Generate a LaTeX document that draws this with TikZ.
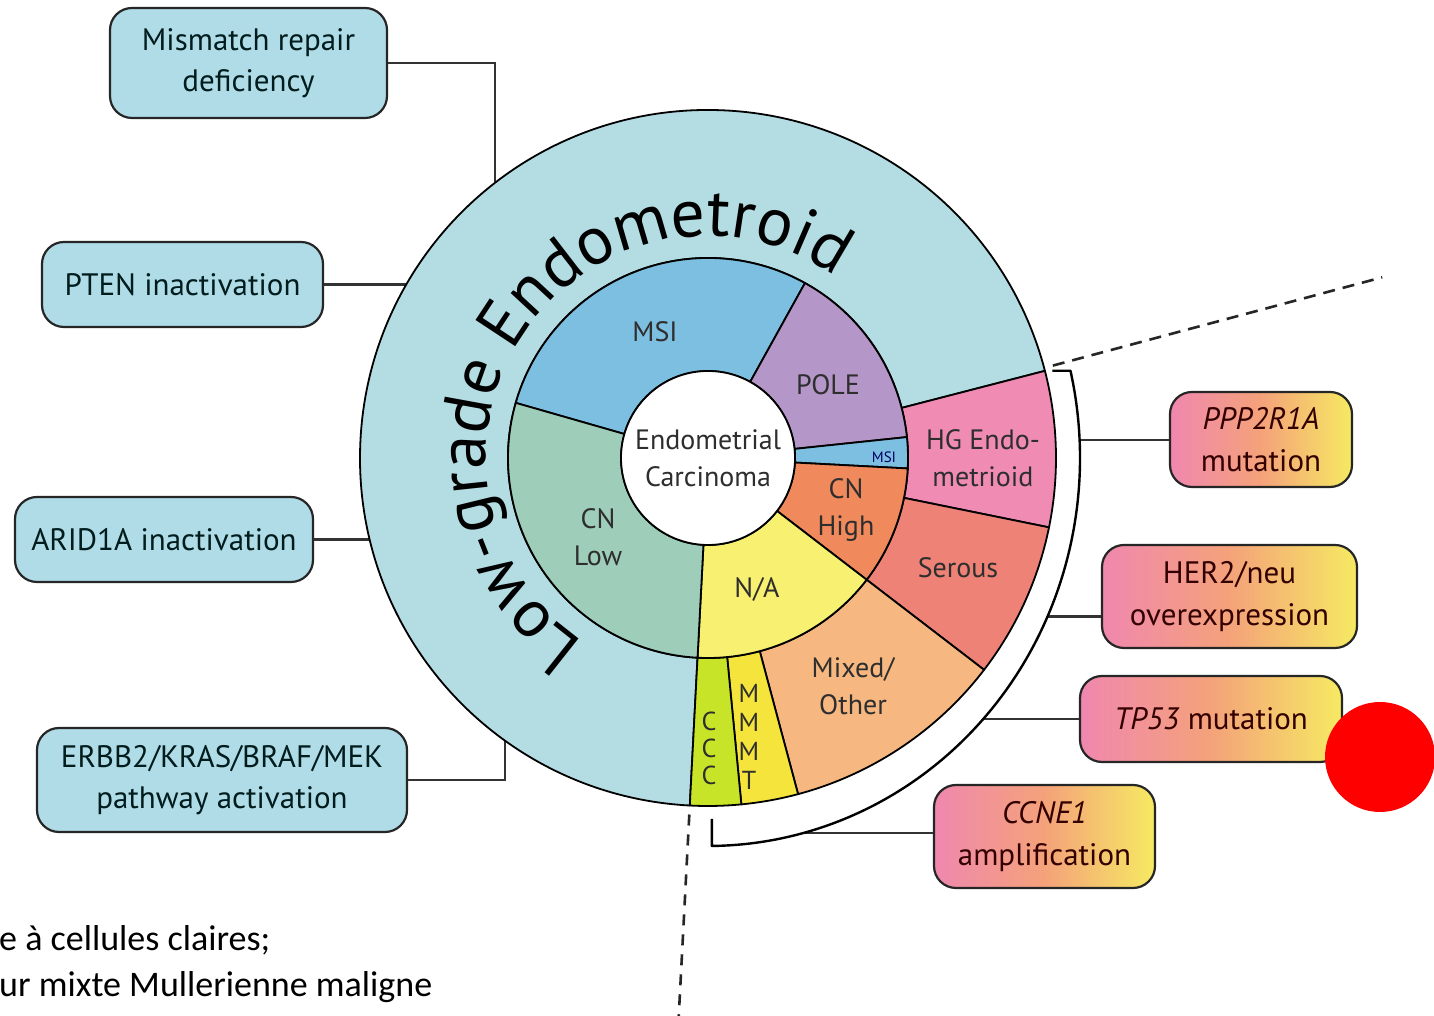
\documentclass[tikz,border=0pt]{standalone}
\usepackage{fontspec}
\setmainfont{PT Sans}
\newfontfamily\slidefont{Carlito}
\usetikzlibrary{calc,decorations.text}

\definecolor{lgblue}{HTML}{B3DCE3}
\definecolor{msiblue}{HTML}{7DBFE0}
\definecolor{polepurple}{HTML}{B496C8}
\definecolor{cnlowgreen}{HTML}{9ECEBA}
\definecolor{cnhighorange}{HTML}{F08A5C}
\definecolor{nayellow}{HTML}{F8F070}
\definecolor{hgpink}{HTML}{F08CB4}
\definecolor{serousred}{HTML}{EE8276}
\definecolor{mixedpeach}{HTML}{F6B880}
\definecolor{mmmtyellow}{HTML}{F5E43C}
\definecolor{ccclime}{HTML}{C8E428}
\definecolor{boxblue}{HTML}{B0DCE8}
\definecolor{genepink}{HTML}{F087AF}
\definecolor{geneorange}{HTML}{F4A27A}
\definecolor{geneyellow}{HTML}{F6EA62}

\newcommand{\rin}{87}
\newcommand{\rmid}{200}
\newcommand{\rout}{348}
\newcommand{\inkcolor}{black!82}
\newcommand{\boxtext}{black!78!teal}
\newcommand{\genetext}{black!80!red}
% one piece of a ring: colour, from angle, to angle, inner radius, outer radius
\newcommand{\wedgepart}[5]{\filldraw[fill=#1,draw=black,line width=1.8pt,line join=round] ($(C)+(#2:#4)$) arc[start angle=#2,end angle=#3,radius=#4] -- ($(C)+(#3:#5)$) arc[start angle=#3,end angle=#2,radius=#5] -- cycle;}

\begin{document}
\begin{tikzpicture}[x=1pt,y=1pt,
  pathbox/.style={draw=black!85,line width=2.2pt,rounded corners=22pt,fill=boxblue,align=center,inner sep=0pt,text=\boxtext,font=\fontsize{31}{41}\selectfont},
  genebox/.style={draw=black!85,line width=2.2pt,rounded corners=22pt,left color=genepink,right color=geneyellow,middle color=geneorange,align=center,inner sep=0pt,text=\genetext,font=\fontsize{31}{42}\selectfont},
  link/.style={draw=black!80,line width=2.4pt},
  seclabel/.style={text=\inkcolor,align=center,font=\fontsize{28}{37}\selectfont},
  bracket/.style={draw=black,line width=2.4pt,line join=round}]

\useasboundingbox (0,0) rectangle (1434,1016);
\fill[white] (0,0) rectangle (1434,1016);

\coordinate (C) at (708,558);


% pathway boxes, low grade side
\node[pathbox,minimum width=277,minimum height=110] (mmr) at (248.5,953) {Mismatch repair\\deficiency};
\node[pathbox,minimum width=281,minimum height=85] (pten) at (182.5,731.5) {PTEN inactivation};
\node[pathbox,minimum width=298,minimum height=85] (arid) at (164,476.5) {ARID1A inactivation};
\node[pathbox,minimum width=370,minimum height=104] (erbb) at (222,236) {ERBB2/KRAS/BRAF/MEK\\pathway activation};

% gene boxes, high grade side
\node[genebox,minimum width=182,minimum height=95] (ppp) at (1261,576.5) {\textit{PPP2R1A}\\mutation};
\node[genebox,minimum width=255,minimum height=103] (her) at (1229.5,419.5) {HER2/neu\\overexpression};
\node[genebox,minimum width=262,minimum height=86] (tp) at (1211,297) {\textit{TP53} mutation};
\node[genebox,minimum width=221,minimum height=103] (ccne) at (1044.5,179.5) {\textit{CCNE1}\\amplification};

\coordinate (lg1) at ($(C)+(127.8:\rout)$);
\coordinate (lg2) at ($(C)+(150.1:\rout)$);
\coordinate (lg3) at ($(C)+(193.5:\rout)$);
\coordinate (lg4) at ($(C)+(234.3:\rout)$);
\coordinate (br1) at ($(C)+(2.7:372 and 388)$);
\coordinate (br2) at ($(C)+(-24.1:372 and 388)$);
\coordinate (br3) at ($(C)+(-42.3:372 and 388)$);
\coordinate (br4) at ($(C)+(-75:372 and 388)$);

\draw[link] (mmr.east) -| (lg1);
\draw[link] (pten.east) -- (pten.east -| lg2);
\draw[link] (arid.east) -- (arid.east -| lg3);
\draw[link] (erbb.east) -| (lg4);
\draw[link] (br1) -- (br1 -| ppp.west);
\draw[link] (br2) -- (br2 -| her.west);
\draw[link] (br3) -- (br3 -| tp.west);
\draw[link] (br4) -- (br4 -| ccne.west);


% outer ring
\wedgepart{lgblue}{14.5}{267}{\rmid}{\rout}
\wedgepart{hgpink}{-11.5}{14.5}{\rmid}{\rout}
\wedgepart{serousred}{-37.5}{-11.5}{\rmid}{\rout}
\wedgepart{mixedpeach}{-75}{-37.5}{\rmid}{\rout}
\wedgepart{mmmtyellow}{-84.5}{-75}{\rmid}{\rout}
\wedgepart{ccclime}{-93}{-84.5}{\rmid}{\rout}

% middle ring
\wedgepart{msiblue}{61}{164}{\rin}{\rmid}
\wedgepart{polepurple}{6}{61}{\rin}{\rmid}
\wedgepart{msiblue}{-3}{6}{\rin}{\rmid}
\wedgepart{cnhighorange}{-37.5}{-3}{\rin}{\rmid}
\wedgepart{nayellow}{-93}{-37.5}{\rin}{\rmid}
\wedgepart{cnlowgreen}{164}{267}{\rin}{\rmid}

\node[circle,draw=black,fill=white,line width=1.8pt,minimum size=174,inner sep=0pt,seclabel] (core) at (C) {Endometrial\\Carcinoma};

\path[decorate,decoration={text along path,text align=center,text={|\fontsize{68}{72}\selectfont|Low-grade Endometroid}}] ($(C)+(235.5:222)$) arc[start angle=235.5,end angle=55.5,radius=222];

\node[seclabel] (msi) at (655,684) {MSI};
\node[seclabel] (pole) at (828,631) {POLE};
\node[seclabel,font=\fontsize{15}{15}\selectfont,text=blue!40!black] (msi2) at (884,559) {MSI};
\node[seclabel] (cnhigh) at (846,506) {CN\\High};
\node[seclabel] (na) at (757,426) {N/A};
\node[seclabel] (cnlow) at (598,479) {CN\\Low};
\node[seclabel] (hgendo) at (983,558) {HG Endo-\\metrioid};
\node[seclabel] (serous) at (958,448) {Serous};
\node[seclabel] (mixed) at (853,330) {Mixed/\\Other};
\node[seclabel,font=\fontsize{26}{29}\selectfont] (mmmt) at (749,279) {M\\M\\M\\T};
\node[seclabel,font=\fontsize{26}{27}\selectfont] (ccc) at (709,268) {C\\C\\C};


% bracket round the high grade part
\draw[bracket] ($(C)+(13:372 and 388)+(-18,0)$) -- ++(18,0) arc[start angle=13,end angle=-89.4,x radius=372,y radius=388] -- ++(0,27);

\draw[black!85,line width=2.6pt,dash pattern=on 12pt off 8pt] ($(C)+(15:357)$) -- ($(C)+(15:698)$);
\draw[black!85,line width=2.6pt,dash pattern=on 11pt off 9pt] ($(C)+(-93:357)$) -- ($(C)+(-93:559)$);

\fill[red] (1380,259) circle[radius=55];

\node[anchor=west,align=left,inner sep=0pt,font=\slidefont\fontsize{36}{46}\selectfont] (note) at (-1,52) {e à cellules claires;\\ur mixte Mullerienne maligne};

\end{tikzpicture}
\end{document}
